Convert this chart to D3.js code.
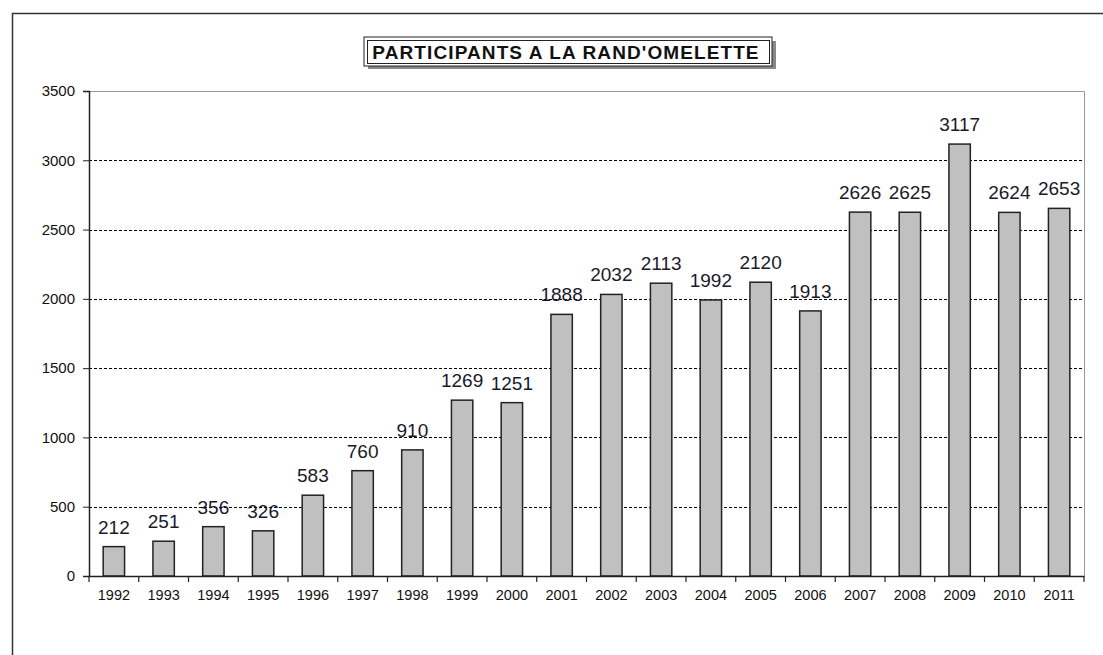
<!DOCTYPE html>
<html>
<head>
<meta charset="utf-8">
<script src="https://cdn.jsdelivr.net/npm/d3@7/dist/d3.min.js"></script>
<style>
body { margin: 0; background: #fff; }
svg text { font-family: "Liberation Sans", Arial, sans-serif; }
</style>
</head>
<body>
<svg id="chart" width="1103" height="655"></svg>
<script>
var years = ["1992","1993","1994","1995","1996","1997","1998","1999","2000","2001",
             "2002","2003","2004","2005","2006","2007","2008","2009","2010","2011"];
var participants = [212,251,356,326,583,760,910,1269,1251,1888,
                    2032,2113,1992,2120,1913,2626,2625,3117,2624,2653];
var yTicks = [0,500,1000,1500,2000,2500,3000,3500];

var svg = d3.select("#chart");

// outer frame
svg.append("path")
  .attr("d", "M12.5,660 V13.5 H1110")
  .attr("fill", "none").attr("stroke", "#333").attr("stroke-width", 1.5);

var pLeft = 89, pRight = 1084, pTop = 91, pBottom = 576;

var x = d3.scaleBand().domain(years).range([pLeft, pRight]).paddingInner(0).paddingOuter(0);
var y = d3.scaleLinear().domain([0, 3500]).range([pBottom, pTop]);

// plot border right/top
svg.append("path")
  .attr("d", "M" + pLeft + "," + (pTop + 0.5) + " H" + (pRight + 0.5) + " V" + pBottom)
  .attr("fill", "none").attr("stroke", "#999").attr("stroke-width", 1);

// gridlines
svg.selectAll(".grid")
  .data(yTicks.filter(function(d) { return d > 0 && d < 3500; }))
  .enter().append("line")
  .attr("x1", pLeft).attr("x2", pRight)
  .attr("y1", function(d) { return Math.round(y(d)) + 0.5; })
  .attr("y2", function(d) { return Math.round(y(d)) + 0.5; })
  .attr("stroke", "#000").attr("stroke-dasharray", "3,2");

// bars
var bw = x.bandwidth() * 0.43;
svg.selectAll(".bar")
  .data(participants)
  .enter().append("rect")
  .attr("class", "bar")
  .attr("x", function(d, i) { return x(years[i]) + (x.bandwidth() - bw) / 2; })
  .attr("y", function(d) { return y(d); })
  .attr("width", bw)
  .attr("height", function(d) { return pBottom - y(d); })
  .attr("fill", "#c0c0c0").attr("stroke", "#222").attr("stroke-width", 1.5);

// value labels
svg.selectAll(".lbl")
  .data(participants)
  .enter().append("text")
  .attr("x", function(d, i) { return x(years[i]) + x.bandwidth() / 2; })
  .attr("y", function(d) { return y(d) - 13; })
  .attr("text-anchor", "middle")
  .attr("font-size", "19px")
  .attr("fill", "#1a1a2a")
  .text(function(d) { return d; });

// axes
var yAxis = svg.append("g")
  .attr("transform", "translate(" + pLeft + ",0)")
  .call(d3.axisLeft(y).tickValues(yTicks).tickSize(6).tickPadding(8).tickFormat(d3.format("d")));
yAxis.select(".domain").attr("stroke", "#222").attr("stroke-width", 1.5);
yAxis.selectAll(".tick line").attr("stroke", "#222");
yAxis.selectAll("text").attr("font-size", "15px").attr("fill", "#111");

var xAxis = svg.append("g")
  .attr("transform", "translate(0," + pBottom + ")")
  .call(d3.axisBottom(x).tickSize(0).tickPadding(14));
xAxis.select(".domain").attr("stroke", "#222").attr("stroke-width", 1.5);
xAxis.selectAll("text").attr("font-size", "14.5px").attr("fill", "#111");

// tick marks at band boundaries
svg.selectAll(".xtick")
  .data(years.concat(["end"]))
  .enter().append("line")
  .attr("x1", function(d, i) { return pLeft + i * x.bandwidth(); })
  .attr("x2", function(d, i) { return pLeft + i * x.bandwidth(); })
  .attr("y1", pBottom).attr("y2", pBottom + 6)
  .attr("stroke", "#222").attr("stroke-width", 1.2);

// title box
var tb = svg.append("g");
tb.append("rect").attr("x", 368).attr("y", 41).attr("width", 408).attr("height", 28)
  .attr("fill", "#888");
tb.append("rect").attr("x", 364).attr("y", 37).attr("width", 408).attr("height", 29)
  .attr("fill", "#fff").attr("stroke", "#222").attr("stroke-width", 1);
tb.append("rect").attr("x", 367.5).attr("y", 40.5).attr("width", 402).attr("height", 23)
  .attr("fill", "none").attr("stroke", "#222").attr("stroke-width", 1);
tb.append("text").attr("x", 566).attr("y", 58.5)
  .attr("text-anchor", "middle").attr("font-size", "19px").attr("font-weight", "bold")
  .attr("letter-spacing", "1.1px")
  .attr("fill", "#111")
  .text("PARTICIPANTS A LA RAND'OMELETTE");
</script>
</body>
</html>
